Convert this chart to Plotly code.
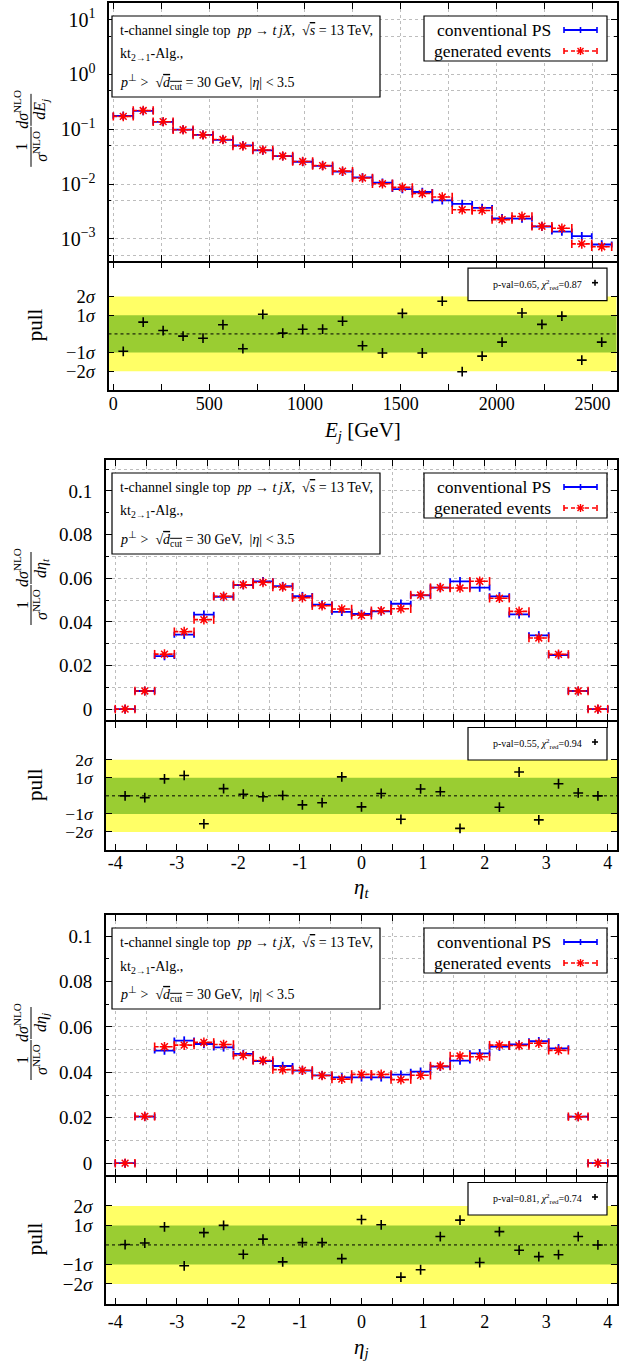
import plotly.graph_objects as go
import math

W, H = 636, 1361
FONT = "Liberation Serif"
BLUE = "#0000ff"
RED = "#ff0000"
YELLOW = "#ffff66"
GREEN = "#9acd32"
GRIDC = "#bdbdbd"

# ---------------- data ----------------
ej_edges = [0, 104, 208, 312, 416, 520, 624, 728, 832, 936, 1040, 1144, 1248,
            1352, 1456, 1560, 1664, 1768, 1872, 1976, 2080, 2184, 2288, 2392, 2496, 2600]
ej_conv = [0.175, 0.215, 0.136, 0.098, 0.079, 0.064, 0.0505, 0.041, 0.0323, 0.0255,
           0.0215, 0.0168, 0.0132, 0.0106, 0.0081, 0.00715, 0.00504, 0.00433, 0.00366,
           0.00237, 0.00234, 0.00168, 0.00136, 0.00112, 0.00079]
ej_gen = [0.171, 0.219, 0.137, 0.0975, 0.0785, 0.0648, 0.0495, 0.0418, 0.0324, 0.0257,
          0.0217, 0.0172, 0.0129, 0.0101, 0.0087, 0.0067, 0.0058, 0.0034, 0.0033,
          0.00224, 0.00257, 0.0017, 0.00156, 0.00081, 0.00072]
ej_pull = [-0.93, 0.63, 0.18, -0.12, -0.23, 0.49, -0.79, 1.05, 0.04, 0.25, 0.26, 0.68,
           -0.63, -1.02, 1.1, -1.02, 1.75, -2.02, -1.19, -0.44, 1.12, 0.51, 0.95, -1.40, -0.44]

eta_edges = [-4.0, -3.68, -3.36, -3.04, -2.72, -2.4, -2.08, -1.76, -1.44, -1.12, -0.8,
             -0.48, -0.16, 0.16, 0.48, 0.8, 1.12, 1.44, 1.76, 2.08, 2.4, 2.72, 3.04,
             3.36, 3.68, 4.0]
etat_conv = [0.0, 0.0083, 0.0243, 0.0341, 0.0433, 0.0515, 0.0569, 0.0586, 0.0564, 0.0518,
             0.0479, 0.0446, 0.0436, 0.0448, 0.0483, 0.0521, 0.0557, 0.0586, 0.0557,
             0.0517, 0.0434, 0.0338, 0.0248, 0.0083, 0.0]
etat_gen = [0.0, 0.0083, 0.0252, 0.0355, 0.041, 0.0517, 0.057, 0.0581, 0.056, 0.0511,
            0.0474, 0.0459, 0.043, 0.0451, 0.046, 0.0523, 0.0557, 0.0555, 0.0586,
            0.0508, 0.0448, 0.0326, 0.0251, 0.0083, 0.0]
etat_pull = [0.0, -0.1, 0.94, 1.13, -1.55, 0.4, 0.09, -0.05, 0.02, -0.5, -0.38, 1.05,
             -0.61, 0.13, -1.3, 0.38, 0.23, -1.8, 2.4, -0.63, 1.32, -1.33, 0.67, 0.16, 0.0]

etaj_conv = [0.0, 0.0205, 0.0496, 0.054, 0.0525, 0.051, 0.0481, 0.045, 0.0428, 0.0408,
             0.0387, 0.0378, 0.0378, 0.0378, 0.039, 0.0403, 0.0425, 0.0452, 0.0484,
             0.0513, 0.0523, 0.0537, 0.0506, 0.0205, 0.0]
etaj_gen = [0.0, 0.0206, 0.0513, 0.052, 0.0532, 0.0523, 0.0475, 0.0452, 0.0412, 0.0409,
            0.0386, 0.037, 0.0391, 0.0391, 0.0368, 0.0387, 0.0428, 0.0472, 0.0469,
            0.052, 0.0518, 0.0528, 0.0497, 0.0205, 0.0]
etaj_pull = [0.02, 0.1, 0.93, -1.07, 0.63, 1.0, -0.48, 0.3, -0.87, 0.12, 0.12, -0.7,
             1.3, 1.03, -1.65, -1.27, 0.43, 1.27, -0.9, 0.68, -0.27, -0.6, -0.5, 0.43, 0.0]

pull_stats = ["p-val=0.65,\u00a0<i>χ</i><sup>2</sup><sub>red</sub>=0.87",
              "p-val=0.55,\u00a0<i>χ</i><sup>2</sup><sub>red</sub>=0.94",
              "p-val=0.81,\u00a0<i>χ</i><sup>2</sup><sub>red</sub>=0.74"]
x_titles = ["<i>E<sub>j</sub></i> [GeV]", "<i>η<sub>t</sub></i>", "<i>η<sub>j</sub></i>"]
y_denoms = ["<i>dE<sub>j</sub></i>", "<i>dη<sub>t</sub></i>", "<i>dη<sub>j</sub></i>"]
legend_names = ["conventional PS", "generated events"]
info_lines = [
    "t-channel single top\u00a0\u00a0<i>pp</i> → <i>t\u2009jX</i>,\u00a0\u00a0√<span style='text-decoration:overline'><i>s</i></span> = 13 TeV,",
    "kt<sub>2→1</sub>-Alg.,",
    "<i>p</i><sup>⊥</sup> &gt;\u00a0\u00a0√<span style='text-decoration:overline'><i>d</i><sub>cut</sub></span> = 30 GeV,\u00a0\u00a0|<i>η</i>| &lt; 3.5",
]
pull_ticks = [-2, -1, 1, 2]
pull_ticktext = ["−2<i>σ</i>", "−1<i>σ</i>", "1<i>σ</i>", "2<i>σ</i>"]
log_ticks = [1e-3, 1e-2, 1e-1, 1, 10]
log_ticktext = ["10<sup>−3</sup>", "10<sup>−2</sup>", "10<sup>−1</sup>", "10<sup>0</sup>", "10<sup>1</sup>"]
log_minor = [5e-4, 5e-3, 5e-2, 0.5, 5]
lin_ticks = [0, 0.02, 0.04, 0.06, 0.08, 0.1]
lin_ticktext = ["0", "0.02", "0.04", "0.06", "0.08", "0.1"]
eta_ticks = [-4, -3, -2, -1, 0, 1, 2, 3, 4]
eta_ticktext = ["-4", "-3", "-2", "-1", "0", "1", "2", "3", "4"]
ej_ticks = [0, 500, 1000, 1500, 2000, 2500]

datasets = [
    dict(edges=ej_edges, conv=ej_conv, gen=ej_gen, pull=ej_pull),
    dict(edges=eta_edges, conv=etat_conv, gen=etat_gen, pull=etat_pull),
    dict(edges=eta_edges, conv=etaj_conv, gen=etaj_gen, pull=etaj_pull),
]

# ---------------- layout geometry (pixels) ----------------
LW = 1.8
panels = [
    dict(top=3, sep=260.7, bot=390, xl=108.5, xr=616.5, xr_rng=[-25, 2625],
         yr=[math.log10(4e-4), math.log10(20)], pr=[-3, 3.82], tstand=-4, xt_y=431, pfs=18.5),
    dict(top=460, sep=720, bot=850, xl=106, xr=617, xr_rng=[-4.15, 4.15],
         yr=[-0.005, 0.1142], pr=[-3, 4.1], tstand=-5, xt_y=888, pfs=17.5),
    dict(top=915, sep=1175, bot=1303.5, xl=106, xr=617, xr_rng=[-4.15, 4.15],
         yr=[-0.0052, 0.1093], pr=[-3, 3.49], tstand=1, xt_y=1348, pfs=19),
]


def PX(x):
    return x / W


def PY(y):
    return 1 - y / H


fig = go.Figure()
shapes = []
annots = []
lay = {}

axis_common = dict(showline=True, linewidth=LW, linecolor="black", mirror="allticks",
                   ticks="inside", ticklen=6, tickwidth=1.3, tickcolor="black",
                   zeroline=False, tickfont=dict(family=FONT, size=18, color="black"))


def ann(x, y, text, size, xanchor="center", yanchor="middle", angle=0):
    annots.append(dict(xref="paper", yref="paper", x=PX(x), y=PY(y), xanchor=xanchor,
                       yanchor=yanchor, textangle=angle, showarrow=False, text=text,
                       font=dict(family=FONT, size=size, color="black")))


def pline(x0, y0, x1, y1, color, width, dash=None, layer="above"):
    ln = dict(color=color, width=width)
    if dash:
        ln["dash"] = dash
    shapes.append(dict(type="line", xref="paper", yref="paper", x0=PX(x0), x1=PX(x1),
                       y0=PY(y0), y1=PY(y1), line=ln, layer=layer))


def pbox(x0, y0, x1, y1):
    shapes.append(dict(type="rect", xref="paper", yref="paper", x0=PX(x0), x1=PX(x1),
                       y0=PY(y1), y1=PY(y0), fillcolor="white",
                       line=dict(color="black", width=1.2), layer="above"))


for i, (p, d) in enumerate(zip(panels, datasets)):
    m = 2 * i + 1
    q = 2 * i + 2
    xm, ym, xq, yq = f"x{m}", f"y{m}", f"x{q}", f"y{q}"
    edges = d["edges"]
    centers = [(a + b) / 2 for a, b in zip(edges[:-1], edges[1:])]
    halfw = [(b - a) / 2 for a, b in zip(edges[:-1], edges[1:])]

    # conventional PS (blue, solid)
    fig.add_trace(go.Scatter(
        x=centers, y=d["conv"], mode="markers", xaxis=xm, yaxis=ym, showlegend=False,
        marker=dict(symbol="line-ns-open", size=6, color=BLUE, line=dict(color=BLUE, width=1.8)),
        error_x=dict(type="data", array=halfw, symmetric=True, color=BLUE, thickness=1.8, width=3)))

    # generated events (red, dashed)
    lx, ly = [], []
    for a, b, v in zip(edges[:-1], edges[1:], d["gen"]):
        lx += [a, b, None]
        ly += [v, v, None]
    fig.add_trace(go.Scatter(x=lx, y=ly, mode="lines", xaxis=xm, yaxis=ym, showlegend=False,
                             line=dict(color=RED, width=1.6, dash="4px,3px")))
    fig.add_trace(go.Scatter(
        x=list(edges[:-1]) + list(edges[1:]), y=list(d["gen"]) + list(d["gen"]),
        mode="markers", xaxis=xm, yaxis=ym, showlegend=False,
        marker=dict(symbol="line-ns-open", size=6, color=RED, line=dict(color=RED, width=1.6))))
    fig.add_trace(go.Scatter(
        x=centers, y=d["gen"], mode="markers", xaxis=xm, yaxis=ym, showlegend=False,
        marker=dict(symbol="asterisk-open", size=8, color=RED, line=dict(color=RED, width=1.5))))

    # pulls
    fig.add_trace(go.Scatter(
        x=centers, y=d["pull"], mode="markers", xaxis=xq, yaxis=yq, showlegend=False,
        marker=dict(symbol="cross-thin-open", size=7, color="black", line=dict(color="black", width=1.6))))

    xdom = [PX(p["xl"]), PX(p["xr"])]
    main_dom = [PY(p["sep"]), PY(p["top"])]
    pull_dom = [PY(p["bot"]), PY(p["sep"] + LW)]

    grid = dict(showgrid=True, gridcolor=GRIDC, griddash="dot", gridwidth=1)
    if i == 0:
        lay["xaxis%d" % m] = dict(axis_common, domain=xdom, anchor=ym, matches=xq, range=p["xr_rng"],
                                  showticklabels=False, tickmode="linear", tick0=0, dtick=250, **grid)
        lay["xaxis%d" % q] = dict(axis_common, domain=xdom, anchor=yq, range=p["xr_rng"],
                                  showgrid=False, tickvals=ej_ticks, ticktext=[str(v) for v in ej_ticks],
                                  ticklabelstandoff=p["tstand"],
                                  minor=dict(tickmode="linear", tick0=0, dtick=250, ticks="inside", ticklen=6, tickwidth=1.3, tickcolor="black"))
        lay["yaxis%d" % m] = dict(axis_common, domain=main_dom, anchor=xm, type="log", range=p["yr"],
                                  tickvals=log_ticks, ticktext=log_ticktext, ticklabelstandoff=7,
                                  tickfont=dict(family=FONT, size=20, color="black"),
                                  minor=dict(tickvals=log_minor, ticks="inside", ticklen=3, tickwidth=1.2,
                                             tickcolor="black", showgrid=True, gridcolor=GRIDC, griddash="dot"),
                                  **grid)
    else:
        lay["xaxis%d" % m] = dict(axis_common, domain=xdom, anchor=ym, matches=xq, range=p["xr_rng"],
                                  showticklabels=False, tickmode="linear", tick0=0, dtick=0.5, **grid)
        lay["xaxis%d" % q] = dict(axis_common, domain=xdom, anchor=yq, range=p["xr_rng"],
                                  showgrid=False, tickvals=eta_ticks, ticktext=eta_ticktext,
                                  ticklabelstandoff=p["tstand"],
                                  minor=dict(tickmode="linear", tick0=0, dtick=0.5, ticks="inside", ticklen=6, tickwidth=1.3, tickcolor="black"))
        lay["yaxis%d" % m] = dict(axis_common, domain=main_dom, anchor=xm, range=p["yr"],
                                  tickvals=lin_ticks, ticktext=lin_ticktext, ticklabelstandoff=8,
                                  tickfont=dict(family=FONT, size=19, color="black"),
                                  minor=dict(tickmode="linear", tick0=0, dtick=0.01, ticks="inside", ticklen=3, tickwidth=1.2,
                                             tickcolor="black", showgrid=True, gridcolor=GRIDC, griddash="dot"),
                                  **grid)
    lay["yaxis%d" % q] = dict(axis_common, domain=pull_dom, anchor=xq, range=p["pr"], showgrid=False,
                              tickvals=pull_ticks, ticktext=pull_ticktext, ticklabelstandoff=8,
                              tickfont=dict(family=FONT, size=p["pfs"], color="black"))

    # pull bands
    shapes.append(dict(type="rect", xref=f"{xq} domain", yref=yq, x0=0, x1=1, y0=-2, y1=2,
                       fillcolor=YELLOW, line=dict(width=0), layer="below"))
    shapes.append(dict(type="rect", xref=f"{xq} domain", yref=yq, x0=0, x1=1, y0=-1, y1=1,
                       fillcolor=GREEN, line=dict(width=0), layer="below"))
    shapes.append(dict(type="line", xref=f"{xq} domain", yref=yq, x0=0, x1=1, y0=0, y1=0,
                       line=dict(color="black", width=1, dash="dot"), layer="below"))

    t = p["top"]
    # info box
    pbox(112, t + 13, 380, t + 94)
    for txt, dy in zip(info_lines, [27, 52, 79]):
        ann(118, t + dy, txt, 14, xanchor="left")
    # legend box
    pbox(424, t + 13, 607, t + 58)
    for name, dy in zip(legend_names, [27, 48]):
        ann(553, t + dy, name, 17.5, xanchor="right")
    # legend samples
    ly1, ly2 = t + 27, t + 48
    sx0, sx1 = 564, 597
    sxc = (sx0 + sx1) / 2
    pline(sx0, ly1, sx1, ly1, BLUE, 1.8)
    for xx in (sx0, sx1, sxc):
        pline(xx, ly1 - 3, xx, ly1 + 3, BLUE, 1.6)
    pline(sx0, ly2, sx1, ly2, RED, 1.6, dash="4px,3px")
    for xx in (sx0, sx1):
        pline(xx, ly2 - 3, xx, ly2 + 3, RED, 1.6)
    for (ddx, ddy) in [(0, 4), (4, 0), (3, 3), (3, -3)]:
        pline(sxc - ddx, ly2 - ddy, sxc + ddx, ly2 + ddy, RED, 1.4)

    # pull stats box
    s = p["sep"]
    pbox(468, s + 7.5, 607, s + 40)
    ann(584, s + 24, pull_stats[i], 10, xanchor="right")
    pline(592, s + 22, 598, s + 22, "black", 1.6)
    pline(595, s + 19, 595, s + 25, "black", 1.6)

    # y titles (fraction)
    cy = (p["top"] + p["sep"]) / 2
    fy1 = cy + 15   # 1 / sigma
    fy2 = cy - 22   # d sigma / dX
    ann(22, fy1, "1", 16, angle=-90)
    ann(40, fy1, "<i>σ</i><sup>NLO</sup>", 16, angle=-90)
    pline(31, fy1 - 20, 31, fy1 + 20, "black", 1, layer="below")
    ann(21, fy2, "<i>dσ</i><sup>NLO</sup>", 16, angle=-90)
    ann(41, fy2, y_denoms[i], 16, angle=-90)
    pline(31, fy2 - 16, 31, fy2 + 16, "black", 1, layer="below")
    # pull title
    ann(35, (p["sep"] + p["bot"]) / 2, "pull", 21, angle=-90)
    # x title
    ann((p["xl"] + p["xr"]) / 2, p["xt_y"], x_titles[i], 21)

fig.update_layout(
    width=W, height=H, margin=dict(l=0, r=0, t=0, b=0),
    paper_bgcolor="white", plot_bgcolor="white",
    font=dict(family=FONT, color="black"),
    shapes=shapes, annotations=annots, showlegend=False,
    **lay,
)

fig.write_html("out.html")
